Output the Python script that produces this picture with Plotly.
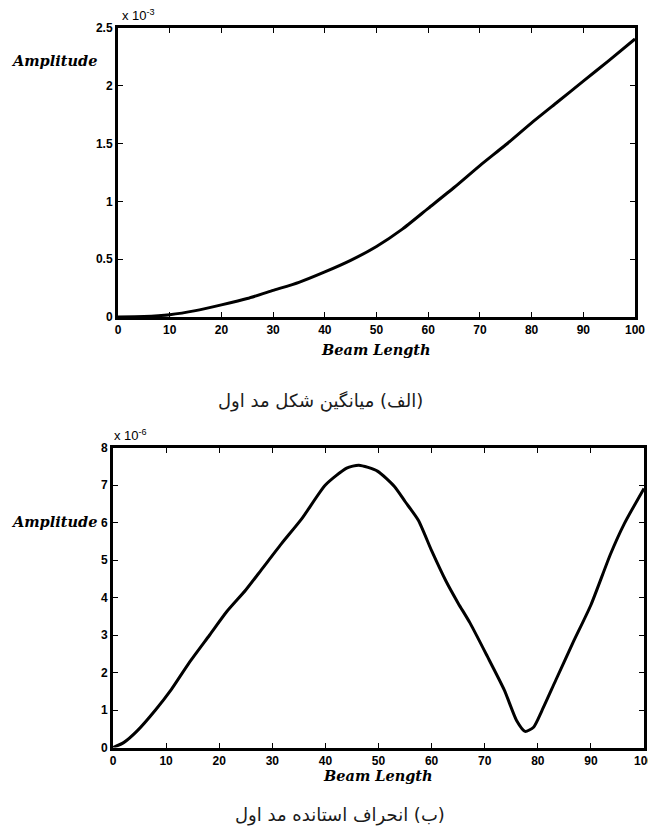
import plotly.graph_objects as go

W, H = 648, 836

# Mean shape of the first mode (amplitude in units of 1e-3)
mean_x = [0, 5, 10, 15, 20, 25, 30, 35, 40, 45, 50, 55, 60, 65, 70, 75, 80, 85, 90, 95, 100]
mean_y = [0, 0.004, 0.02, 0.055, 0.105, 0.16, 0.23, 0.30, 0.39, 0.49, 0.61, 0.76,
          0.94, 1.12, 1.31, 1.49, 1.68, 1.86, 2.04, 2.22, 2.405]

# Standard deviation of the first mode (amplitude in units of 1e-6)
std_x = [0, 2, 4.6, 8, 11, 14.3, 18.2, 21.4, 25, 28, 31.7, 35.6, 40, 44, 46.3, 49.8,
         53, 55, 57.5, 60, 62.7, 65, 67.2, 70.5, 73.7, 76, 77.6, 79.2, 80.8, 83.4,
         86.6, 90, 93.7, 96.3, 100]
std_y = [0, 0.13, 0.45, 1.0, 1.55, 2.25, 3.0, 3.62, 4.2, 4.75, 5.43, 6.11, 7.0, 7.45,
         7.53, 7.37, 6.96, 6.56, 6.06, 5.25, 4.44, 3.85, 3.33, 2.43, 1.53, 0.72, 0.43,
         0.54, 0.99, 1.8, 2.79, 3.8, 5.16, 5.97, 6.91]

x_ticks = [0, 10, 20, 30, 40, 50, 60, 70, 80, 90, 100]
top_y_ticks = [0, 0.5, 1, 1.5, 2, 2.5]
top_y_labels = ["0", "0.5", "1", "1.5", "2", "2.5"]
bot_y_ticks = [0, 1, 2, 3, 4, 5, 6, 7, 8]

# Right-to-left marks keep the Persian captions in proper order
RLM = "\u200f"
caption_top = RLM + "(الف) میانگین شکل مد اول" + RLM
caption_bot = RLM + "(ب) انحراف استانده مد اول" + RLM


def px_x(p):
    return p / W


def px_y(p):
    return 1 - p / H


tick_font = dict(family="Liberation Sans, Arial", size=12, color="black", weight="bold")
label_font = dict(family="DejaVu Serif", size=14.5, color="black", weight="bold", style="italic")
exp_font = dict(family="Liberation Sans, Arial", size=13, color="black")
caption_font = dict(family="DejaVu Sans", size=18, color="#1a1a1a")

axis_common = dict(
    showline=True, linecolor="black", linewidth=3, mirror="ticks",
    ticks="inside", ticklen=5, tickwidth=1, tickcolor="black",
    showgrid=False, zeroline=False, tickfont=tick_font, automargin=False,
)

fig = go.Figure()
fig.add_trace(go.Scatter(x=mean_x, y=mean_y, mode="lines", xaxis="x", yaxis="y",
                         line=dict(color="black", width=3, shape="spline", smoothing=0.6),
                         showlegend=False))
fig.add_trace(go.Scatter(x=std_x, y=std_y, mode="lines", xaxis="x2", yaxis="y2",
                         line=dict(color="black", width=3, shape="spline", smoothing=0.6),
                         showlegend=False))

fig.update_layout(
    width=W, height=H,
    margin=dict(l=0, r=0, t=0, b=0, autoexpand=False),
    paper_bgcolor="white", plot_bgcolor="white",
    xaxis=dict(domain=[px_x(118), px_x(635)], range=[0, 100], tickvals=x_ticks,
               anchor="y", **axis_common),
    yaxis=dict(domain=[px_y(317), px_y(28)], range=[0, 2.5], tickvals=top_y_ticks,
               ticktext=top_y_labels, anchor="x", **axis_common),
    xaxis2=dict(domain=[px_x(113), px_x(644)], range=[0, 100], tickvals=x_ticks,
                anchor="y2", ticklabeloverflow="allow", **axis_common),
    yaxis2=dict(domain=[px_y(747.5), px_y(447.5)], range=[0, 8], tickvals=bot_y_ticks,
                anchor="x2", **axis_common),
)

annotations = [
    dict(x=px_x(120), y=px_y(15), text="x 10<sup>-3</sup>", xanchor="left", yanchor="middle",
         font=exp_font),
    dict(x=px_x(112), y=px_y(435), text="x 10<sup>-6</sup>", xanchor="left", yanchor="middle",
         font=exp_font),
    dict(x=px_x(9), y=px_y(60), text="Amplitude", xanchor="left", yanchor="middle", font=label_font),
    dict(x=px_x(9), y=px_y(521), text="Amplitude", xanchor="left", yanchor="middle", font=label_font),
    dict(x=px_x(376), y=px_y(349), text="Beam Length", xanchor="center", yanchor="middle", font=label_font),
    dict(x=px_x(378), y=px_y(775), text="Beam Length", xanchor="center", yanchor="middle", font=label_font),
    dict(x=px_x(320), y=px_y(401), text=caption_top, xanchor="center", yanchor="middle",
         font=caption_font),
    dict(x=px_x(340), y=px_y(815), text=caption_bot, xanchor="center", yanchor="middle",
         font=caption_font),
]
for a in annotations:
    a.update(xref="paper", yref="paper", showarrow=False)
fig.update_layout(annotations=annotations)

fig.write_html("out.html")
